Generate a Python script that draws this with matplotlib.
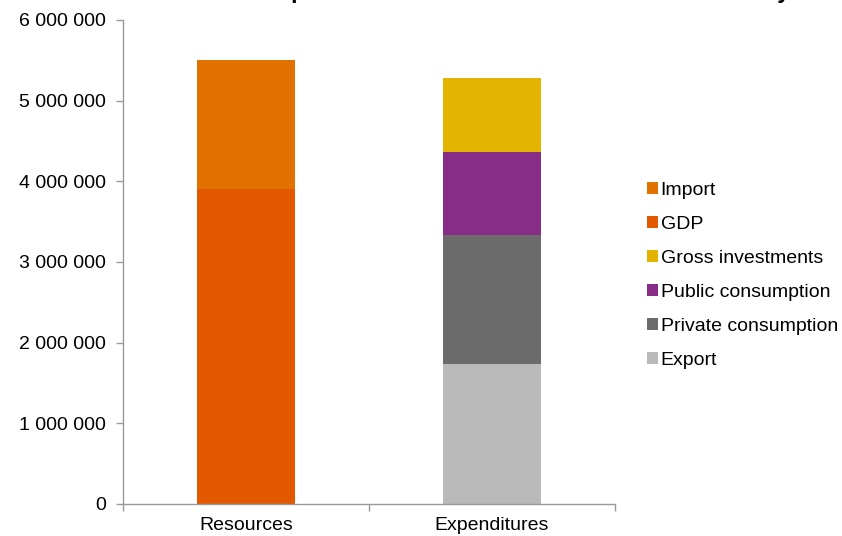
import numpy as np
import matplotlib.pyplot as plt
from matplotlib.patches import Patch
from matplotlib.ticker import FuncFormatter

plt.rcParams['font.family'] = ['Liberation Sans', 'DejaVu Sans']

# categories and stacked components (national accounts, values in millions)
categories = ['Resources', 'Expenditures']

resources_labels = ['GDP', 'Import']
resources_values = [3905000, 1600000]

expend_labels = ['Export', 'Private consumption', 'Public consumption', 'Gross investments']
expend_values = [1735000, 1600000, 1030000, 917000]

colors = {
    'Import': '#E17200',
    'GDP': '#E35900',
    'Gross investments': '#E2B400',
    'Public consumption': '#882D87',
    'Private consumption': '#6B6B6B',
    'Export': '#B9B9B9',
}

legend_order = ['Import', 'GDP', 'Gross investments', 'Public consumption',
                'Private consumption', 'Export']

fig = plt.figure(figsize=(8.42, 5.36), dpi=100)
ax = fig.add_axes([123 / 842, 1 - 504 / 536, (615 - 123) / 842, (504 - 20) / 536])

bar_w = 0.4
x = np.arange(len(categories))

# stack the resource side
bottom = 0
for lab, val in zip(resources_labels, resources_values):
    ax.bar(x[0], val, bar_w, bottom=bottom, color=colors[lab], linewidth=0)
    bottom += val

# stack the expenditure side
bottom = 0
for lab, val in zip(expend_labels, expend_values):
    ax.bar(x[1], val, bar_w, bottom=bottom, color=colors[lab], linewidth=0)
    bottom += val

ax.set_xlim(-0.5, 1.5)
ax.set_ylim(0, 6000000)
ax.set_yticks(np.arange(0, 6000001, 1000000))
ax.yaxis.set_major_formatter(FuncFormatter(lambda v, p: f'{int(v):,}'.replace(',', ' ')))

ax.set_xticks(x)
ax.set_xticklabels(categories)
ax.set_xticks([-0.5, 0.5, 1.5], minor=True)
ax.tick_params(axis='x', which='major', length=0, pad=9, labelsize=14)
ax.tick_params(axis='x', which='minor', length=5, color='#999999', width=1)
ax.tick_params(axis='y', length=5, color='#999999', width=1, labelsize=14, pad=7)

for s in ['top', 'right']:
    ax.spines[s].set_visible(False)
for s in ['left', 'bottom']:
    ax.spines[s].set_color('#999999')
    ax.spines[s].set_linewidth(1)

handles = [Patch(facecolor=colors[k], edgecolor='none', label=k) for k in legend_order]
fig.legend(handles=handles, loc='upper left', bbox_to_anchor=(647 / 842, 1 - 182 / 536),
           frameon=False, fontsize=14, handlelength=0.55, handleheight=0.55,
           handletextpad=0.15, labelspacing=0.87, borderaxespad=0, borderpad=0)

# title sits above the visible area
fig.text(0.612, 1.004, 'Comparison of resources and uses in the economy',
         ha='center', va='baseline', fontsize=16.3, fontweight='bold')

fig.savefig('out.png', dpi=100)
